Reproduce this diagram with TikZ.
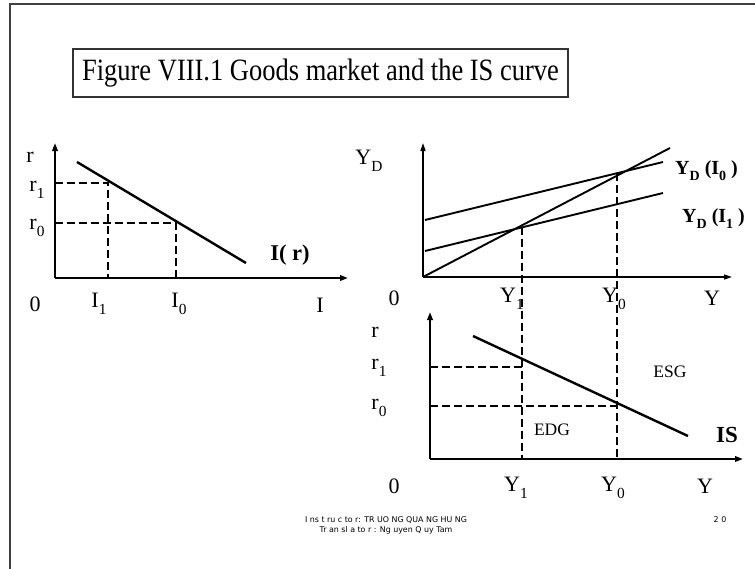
\documentclass[tikz,border=0pt]{standalone}
\usepackage{fontspec}
\setmainfont{Liberation Serif}
\newfontfamily\footfont{DejaVu Sans}
\usetikzlibrary{arrows.meta}
\newcommand{\lo}[1]{\raisebox{-0.3em}{\scalebox{0.7}{#1}}}
\begin{document}
\begin{tikzpicture}[x=1pt,y=-1pt,
  lbl/.style={font=\fontsize{22}{22}\selectfont, inner sep=0pt},
  bl/.style={font=\fontsize{20}{20}\selectfont\bfseries, inner sep=0pt},
  sm/.style={font=\fontsize{17.5}{17.5}\selectfont, inner sep=0pt},
  ax/.style={line width=2.8pt, -{Triangle[length=8pt,width=5.5pt]}},
  thinax/.style={line width=1.5pt, -{Triangle[length=8pt,width=5pt]}},
  crv/.style={line width=2.4pt},
  thincrv/.style={line width=1.9pt},
  dsh/.style={line width=2.4pt, dash pattern=on 8pt off 4pt},
  foot/.style={font=\footfont\fontsize{7.9}{10}\selectfont, inner sep=0pt, align=center}]
\useasboundingbox (0,0) rectangle (755,568);
\fill[white] (0,0) rectangle (755,568);
% outer frame
\draw[line width=1.6pt, black!75] (760,4) -- (10,4) -- (10,573);
% title
\node[draw, line width=1.1pt, black!80, text=black, minimum width=495pt, minimum height=48pt, inner sep=0pt,
  font=\fontsize{26.5}{26.5}\selectfont] (title) at (320.5,73) {\scalebox{1}[1.17]{Figure VIII.1 Goods market and the IS curve}};

% ---------- left chart: I(r)
\coordinate (O1) at (55,278);
\coordinate (L1y) at (55,143);
\coordinate (L1x) at (348,278);
\coordinate (Ia) at (77,162);
\coordinate (Ib) at (246,263);
\coordinate (r1a) at (55,183);
\coordinate (P1) at (108,183);
\coordinate (P1b) at (108,278);
\coordinate (r0a) at (55,223);
\coordinate (P0) at (176,223);
\coordinate (P0b) at (176,278);
\draw[dsh] (r1a) -- (P1) -- (P1b);
\draw[dsh] (r0a) -- (P0) -- (P0b);
\draw[crv] (Ia) -- (Ib);
\draw[ax] (O1) -- (L1y);
\draw[ax] (O1) -- (L1x);
\node[lbl] (lr) at (30,157) {r};
\node[lbl] (lr1) at (37,190) {r\lo{1}};
\node[lbl] (lr0) at (37,228) {r\lo{0}};
\node[bl, font=\fontsize{22.5}{22.5}\selectfont\bfseries] (Ir) at (290,255) {I( r)};
\node[lbl] (l0) at (35,304) {0};
\node[lbl] (lI1) at (99,304) {I\lo{1}};
\node[lbl] (lI0) at (179,304) {I\lo{0}};
\node[lbl] (lI) at (320,305) {I};

% ---------- upper right chart: Keynesian cross
\coordinate (O2) at (423,277);
\coordinate (U2y) at (423,143);
\coordinate (U2x) at (732,277);
\coordinate (D45) at (670,148);
\coordinate (D0a) at (425,220);
\coordinate (D0b) at (663,162);
\coordinate (D1a) at (425,251);
\coordinate (D1b) at (663,193);
\coordinate (E1) at (522,227);
\coordinate (E0) at (617,173);
\draw[thincrv] (O2) -- (D45);
\draw[thincrv] (D0a) -- (D0b);
\draw[thincrv] (D1a) -- (D1b);
\draw[thinax] (O2) -- (U2y);
\draw[thinax] (O2) -- (U2x);
\node[lbl] (uYD) at (369,161) {Y\lo{D}};
\node[bl, anchor=west] (YDI0) at (675,171) {Y\lo{D} (I\lo{0} )};
\node[bl, anchor=west] (YDI1) at (682,219) {Y\lo{D} (I\lo{1} )};
\node[lbl] (u0) at (394,298) {0};
\node[lbl] (uY1) at (512,299) {Y\lo{1}};
\node[lbl] (uY0) at (614,299) {Y\lo{0}};
\node[lbl] (uY) at (712,298) {Y};

% ---------- lower right chart: IS curve
\coordinate (O3) at (430,459);
\coordinate (B3y) at (430,312);
\coordinate (B3x) at (743,459);
\coordinate (ISa) at (473,336);
\coordinate (ISb) at (688,436);
\coordinate (F1) at (522,459);
\coordinate (F0) at (617,459);
\coordinate (s1a) at (430,367);
\coordinate (s1b) at (522,367);
\coordinate (s0a) at (430,406);
\coordinate (s0b) at (617,406);
\draw[dsh] (E1) -- (F1);
\draw[dsh] (E0) -- (F0);
\draw[dsh] (s1a) -- (s1b);
\draw[dsh] (s0a) -- (s0b);
\draw[crv] (ISa) -- (ISb);
\draw[ax] (O3) -- (B3y);
\draw[ax] (O3) -- (B3x);
\node[lbl] (br) at (375,332) {r};
\node[lbl] (br1) at (379,368) {r\lo{1}};
\node[lbl] (br0) at (379,408) {r\lo{0}};
\node[lbl] (b0) at (394,486) {0};
\node[lbl] (bY1) at (516,488) {Y\lo{1}};
\node[lbl] (bY0) at (613,488) {Y\lo{0}};
\node[lbl] (bY) at (705,486) {Y};
\node[sm] (ESG) at (670,372) {ESG};
\node[sm] (EDG) at (552,430) {EDG};
\node[bl, font=\fontsize{23}{23}\selectfont\bfseries] (IS) at (727,435) {IS};

% ---------- footer
\node[foot] (ft) at (386,525) {I ns t ru c to r: TR UO NG QUA NG HU NG\\Tr an sl a to r : Ng uyen Q uy Tam};
\node[foot] (pg) at (720,520) {2 0};
\end{tikzpicture}
\end{document}
